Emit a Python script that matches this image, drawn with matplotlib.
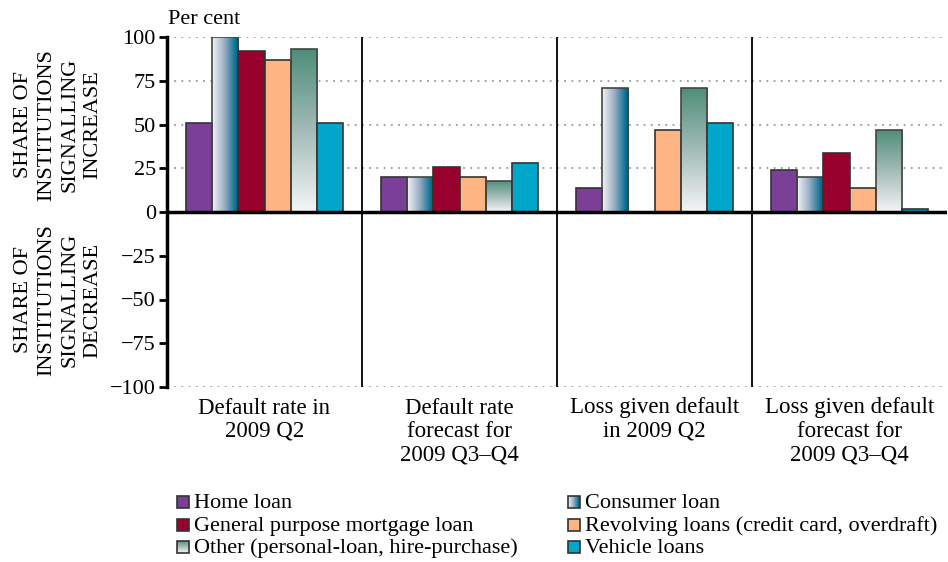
import numpy as np
import matplotlib
matplotlib.use("Agg")
import matplotlib.pyplot as plt
from matplotlib.colors import LinearSegmentedColormap
from matplotlib.patches import Rectangle

plt.rcParams['font.family'] = ['Liberation Serif', 'DejaVu Serif']

categories = ["Default rate in\n2009 Q2",
              "Default rate\nforecast for\n2009 Q3\u2013Q4",
              "Loss given default\nin 2009 Q2",
              "Loss given default\nforecast for\n2009 Q3\u2013Q4"]
series_names = ["Home loan", "Consumer loan", "General purpose mortgage loan",
                "Revolving loans (credit card, overdraft)",
                "Other (personal-loan, hire-purchase)", "Vehicle loans"]
home_loan = [51, 20, 14, 24]
consumer_loan = [100, 20, 71, 20]
mortgage_loan = [92, 26, 0, 34]
revolving_loans = [87, 20, 47, 14]
other_loans = [93, 18, 71, 47]
vehicle_loans = [51, 28, 51, 2]
series_values = [home_loan, consumer_loan, mortgage_loan, revolving_loans,
                 other_loans, vehicle_loans]
yticks = [-100, -75, -50, -25, 0, 25, 50, 75, 100]

# styles
solid = {0: "#7b3f98", 2: "#98002e", 3: "#fdb683", 5: "#00a7cb"}
cons_cmap = LinearSegmentedColormap.from_list(
    "cons", [(0, "#f2f3f6"), (0.45, "#9db0c4"), (0.75, "#3a82a3"),
             (0.9, "#00708f"), (1.0, "#005877")])
other_cmap = LinearSegmentedColormap.from_list(
    "oth", [(0, "#f5f5f6"), (0.5, "#a3bbb6"), (1.0, "#4e8e79")])
gradients = {1: ("h", cons_cmap), 4: ("v", other_cmap)}

W, H = 948, 562
fig = plt.figure(figsize=(W / 100, H / 100), dpi=100)
ax = fig.add_axes([167 / W, 1 - 387 / H, (947 - 167) / W, 350 / H])

n = len(series_values)
bw = 0.135
x = np.arange(len(categories)) + 0.5

ax.set_xlim(0, 4)
ax.set_ylim(-100, 100)

# gridlines
for g in [25, 50, 75, 100, -100]:
    ax.axhline(g, color="#9a9a9a", lw=1.3, ls=(0, (1, 3)), zorder=0)

def grad_fill(patch, kind, cmap):
    px, py = patch.get_x(), patch.get_y()
    pw, ph = patch.get_width(), patch.get_height()
    if ph == 0:
        return
    if kind == "h":
        arr = np.linspace(0, 1, 128).reshape(1, -1)
    else:
        arr = np.linspace(0, 1, 128).reshape(-1, 1)
    im = ax.imshow(arr, cmap=cmap, extent=[px, px + pw, py, py + ph],
                   origin="lower", aspect="auto", zorder=2, interpolation="bilinear")
    im.set_clip_path(patch)

for i, vals in enumerate(series_values):
    pos = x + (i - (n - 1) / 2) * bw
    if i in gradients:
        bars = ax.bar(pos, vals, bw, facecolor="none", edgecolor="#444444",
                      linewidth=1.2, zorder=3)
        kind, cmap = gradients[i]
        for p in bars:
            grad_fill(p, kind, cmap)
    else:
        ax.bar(pos, vals, bw, color=solid[i], edgecolor="#333333",
               linewidth=1.2, zorder=3)

ax.set_xlim(0, 4)
ax.set_ylim(-100, 100)

# separators
for b in [1, 2, 3]:
    ax.axvline(b, color="black", lw=1.3, zorder=4)
ax.axhline(0, color="black", lw=2.5, zorder=5)

for s in ["top", "right", "bottom"]:
    ax.spines[s].set_visible(False)
ax.spines["left"].set_linewidth(2.5)
ax.set_yticks(yticks)
ax.set_yticklabels([("\u2212" + str(-t)) if t < 0 else str(t) for t in yticks])
ax.tick_params(axis="y", direction="out", length=6, width=2, labelsize=16, pad=2)
ax.set_xticks([])

for xi, lab in zip(x, categories):
    ax.text(xi, -0.03, lab, transform=ax.get_xaxis_transform(), ha="center",
            va="top", fontsize=16.5, linespacing=1.15)

fig.text(168 / W, 1 - 19 / H, "Per cent", fontsize=16, ha="left", va="center")

fig.text(58 / W, 1 - 125 / H, "SHARE OF\nINSTITUTIONS\nSIGNALLING\nINCREASE",
         rotation=90, ha="center", va="center", fontsize=16, linespacing=1.3,
         multialignment="center")
fig.text(58 / W, 1 - 300 / H, "SHARE OF\nINSTITUTIONS\nSIGNALLING\nDECREASE",
         rotation=90, ha="center", va="center", fontsize=16, linespacing=1.3,
         multialignment="center")

# legend (manual)
leg_pos = [(177, 502), (568, 502), (177, 525), (568, 525), (177, 547), (568, 547)]
for i, (lx, ly) in enumerate(leg_pos):
    s = 12
    max_ = fig.add_axes([lx / W, 1 - (ly + s / 2) / H, s / W, s / H])
    max_.set_xlim(0, 1)
    max_.set_ylim(0, 1)
    max_.set_axis_off()
    if i in gradients:
        kind, cmap = gradients[i]
        arr = np.linspace(0, 1, 64).reshape(1, -1) if kind == "h" else np.linspace(0, 1, 64).reshape(-1, 1)
        max_.imshow(arr, cmap=cmap, extent=[0, 1, 0, 1], origin="lower", aspect="auto")
        max_.add_patch(Rectangle((0, 0), 1, 1, fill=False, edgecolor="#333333", lw=1.2,
                                 transform=max_.transAxes, clip_on=False))
    else:
        max_.add_patch(Rectangle((0, 0), 1, 1, facecolor=solid[i], edgecolor="#333333",
                                 lw=1.2, transform=max_.transAxes, clip_on=False))
    fig.text((lx + s + 5) / W, 1 - (ly + s / 2) / H, series_names[i], fontsize=16,
             ha="left", va="baseline")

fig.savefig("out.png", dpi=100)
